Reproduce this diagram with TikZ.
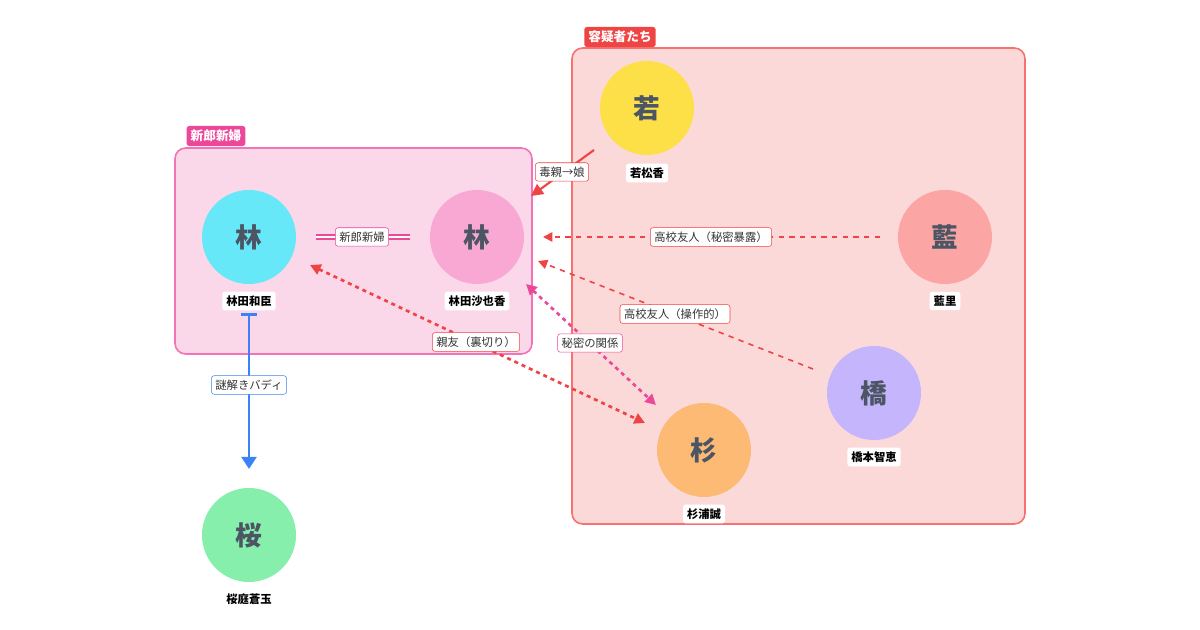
\documentclass[tikz,border=0pt]{standalone}
\usepackage{fontspec}
\setmainfont{Noto Sans CJK JP}
\usetikzlibrary{arrows.meta}
\definecolor{gfill}{HTML}{FBD7EA}\definecolor{gbord}{HTML}{F472B6}\definecolor{gtag}{HTML}{EC4899}
\definecolor{sfill}{HTML}{FCD9D9}\definecolor{sbord}{HTML}{F87171}\definecolor{stag}{HTML}{EF4444}
\definecolor{txt}{HTML}{4B5563}\definecolor{ered}{HTML}{EF4444}\definecolor{epink}{HTML}{EC4899}\definecolor{eblue}{HTML}{3B82F6}
\tikzset{
 person/.style={circle,minimum size=70.5pt,inner sep=0pt,text=txt,font=\fontsize{20}{20}\selectfont\bfseries},
 pname/.style={fill=white,rounded corners=2pt,inner sep=3pt,font=\fontsize{8.5}{9}\selectfont\bfseries},
 elab/.style={fill=white,draw=#1,rounded corners=2pt,inner sep=3pt,font=\fontsize{8.5}{9}\selectfont,text=black!80},
 grouptag/.style={fill=#1,text=white,rounded corners=2pt,inner sep=3pt,font=\fontsize{9.5}{10}\selectfont\bfseries},
}
\begin{document}
\begin{tikzpicture}[x=0.75pt,y=-0.75pt]
\useasboundingbox (0,0) rectangle (1200,630);
\draw[fill=gfill,draw=gbord,line width=1.2pt,rounded corners=8pt] (175,148) rectangle (532,354);
\node[grouptag=gtag] (tg) at (216,136) {新郎新婦};
\draw[fill=sfill,draw=sbord,line width=1.2pt,rounded corners=8pt] (572,48) rectangle (1025,524);
\node[grouptag=stag] (ts) at (620,37) {容疑者たち};
\node[person,fill={rgb,255:red,103;green,232;blue,249}] (g) at (249,237) {林};
\node[pname] (gn) at (249,301) {林田和臣};
\node[person,fill={rgb,255:red,249;green,168;blue,212}] (b) at (477,237) {林};
\node[pname] (bn) at (477,301) {林田沙也香};
\node[person,fill={rgb,255:red,253;green,224;blue,71}] (w) at (647,108) {若};
\node[pname] (wn) at (647,173) {若松香};
\node[person,fill={rgb,255:red,252;green,165;blue,165}] (a) at (945,237) {藍};
\node[pname] (an) at (945,301) {藍里};
\node[person,fill={rgb,255:red,196;green,181;blue,253}] (h) at (874,393) {橋};
\node[pname] (hn) at (874,457) {橋本智恵};
\node[person,fill={rgb,255:red,253;green,186;blue,116}] (s) at (704,450) {杉};
\node[pname] (sn) at (704,514) {杉浦誠};
\node[person,fill={rgb,255:red,134;green,239;blue,172}] (k) at (249,535) {桜};
\node[pname] (kn) at (249,599) {桜庭蒼玉};
% couple
\coordinate (c1) at (316,237); \coordinate (c2) at (410,237);
\draw[epink,line width=4.5pt] (c1) -- (c2);
\draw[white,line width=1.5pt] (c1) -- (c2);
\node[elab=epink] at (362,237) {新郎新婦};
% 若 -> bride
\coordinate (w1) at (594,150); \coordinate (w2) at (531,196);
\draw[ered,line width=1.6pt,-{Triangle[length=9pt,width=9pt]}] (w1) -- (w2);
\node[elab=ered] at (562,172) {毒親→娘};
% 藍 -> bride
\coordinate (a1) at (880,237); \coordinate (a2) at (543,237);
\draw[ered,line width=1.2pt,dash pattern=on 4pt off 4pt,-{Triangle[length=7pt,width=7pt]}] (a1) -- (a2);
\node[elab=ered] at (711,237) {高校友人（秘密暴露）};
% 橋 -> bride
\coordinate (h1) at (813,369); \coordinate (h2) at (538,261);
\draw[ered,line width=1.2pt,dash pattern=on 4pt off 4pt,-{Triangle[length=7pt,width=7pt]}] (h1) -- (h2);
\node[elab=ered] at (675,314) {高校友人（操作的）};
% 親友
\coordinate (f1) at (310,265); \coordinate (f2) at (645,423);
\draw[ered,line width=2pt,dash pattern=on 3pt off 3pt,{Triangle[length=8pt,width=8pt]}-{Triangle[length=8pt,width=8pt]}] (f1) -- (f2);
\node[elab=ered] at (476,342) {親友（裏切り）};
% 秘密
\coordinate (p1) at (526,284); \coordinate (p2) at (656,405);
\draw[epink,line width=2pt,dash pattern=on 3pt off 3pt,{Triangle[length=8pt,width=8pt]}-{Triangle[length=8pt,width=8pt]}] (p1) -- (p2);
\node[elab=epink] at (590,343) {秘密の関係};
% buddy
\coordinate (n1) at (249,313); \coordinate (n2) at (249,469);
\draw[eblue,line width=2.2pt,{Bar[width=12pt]}-{Triangle[length=9pt,width=11pt]}] (n1) -- (n2);
\node[elab=eblue] at (249,385) {謎解きバディ};
\end{tikzpicture}
\end{document}
